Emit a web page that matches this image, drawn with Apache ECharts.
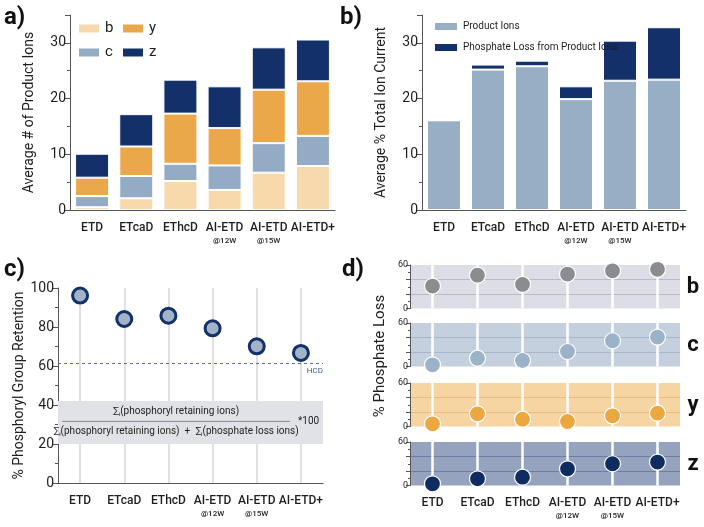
<!DOCTYPE html>
<html><head><meta charset="utf-8">
<script src="https://cdn.jsdelivr.net/npm/echarts@6/dist/echarts.min.js"></script>
<style>html,body{margin:0;padding:0;background:#fff}#c{width:704px;height:527px}</style>
</head><body><div id="c"></div>
<script>
// ---------- data ----------
const categories = ['ETD','ETcaD','EThcD','AI-ETD@12W','AI-ETD@15W','AI-ETD+'];
// a) average # of product ions (stacked)
const ionB = [0.5, 2.1, 5.2, 3.6, 6.7, 7.9];
const ionC = [2.0, 4.0, 3.1, 4.4, 5.3, 5.4];
const ionY = [3.3, 5.3, 9.0, 6.7, 9.6, 9.8];
const ionZ = [4.3, 5.8, 6.1, 7.5, 7.6, 7.5];
// b) average % total ion current
const productIons = [16.1, 25.2, 25.8, 19.9, 23.2, 23.4];
const phosphateLoss = [0, 0.9, 1.0, 2.3, 7.2, 9.4];
// c) % phosphoryl group retention
const retention = [96.1, 84.1, 85.8, 79.3, 70.1, 66.7];
const hcdRetention = 61.5;
const formulaBox = [20, 42];
// d) % phosphate loss by ion type
const lossB = [30.9, 46.0, 33.2, 47.5, 52.0, 54.0];
const lossC = [2.3, 11.5, 8.3, 20.7, 35.5, 40.6];
const lossY = [3.7, 17.5, 10.1, 6.9, 14.7, 18.4];
const lossZ = [2.3, 9.2, 11.5, 23.0, 30.0, 32.3];
const rowNames = ['b', 'c', 'y', 'z'];

// ---------- style ----------
const FONT = "Roboto,'Liberation Sans',sans-serif";
const TXT = '#1e1e1e';
const AX = '#555';
const catFmt = v => v.includes('@') ? v.split('@')[0] + '\n{s|@' + v.split('@')[1] + '}' : v;
const catLabel = {
  interval: 0, fontFamily: FONT, fontSize: 12, fontWeight: 500, color: TXT, lineHeight: 15, margin: 10,
  formatter: catFmt, rich: { s: { fontFamily: FONT, fontSize: 8, lineHeight: 11, color: TXT } }
};
function catAxis(gi, extra) {
  return Object.assign({
    type: 'category', gridIndex: gi, data: categories,
    axisLine: { lineStyle: { color: AX, width: 1 } },
    axisTick: { length: 3, lineStyle: { color: AX } },
    axisLabel: catLabel
  }, extra || {});
}
function valAxis(gi, extra) {
  return Object.assign({
    type: 'value', gridIndex: gi,
    axisLine: { show: true, lineStyle: { color: AX } },
    axisTick: { show: true, length: 5, lineStyle: { color: AX } },
    minorTick: { show: true, splitNumber: 2, length: 3, lineStyle: { color: AX } },
    splitLine: { show: false },
    axisLabel: { fontFamily: FONT, fontSize: 14, color: TXT, margin: 4 },
    nameLocation: 'middle', nameTextStyle: { fontFamily: FONT, fontSize: 14, color: TXT }
  }, extra || {});
}

const dTops = [265, 323, 383, 442];
const dBg = ['#dcdde5', '#c4d0dd', '#f7d5a3', '#95a3bf'];
const dLine = ['#b8bac9', '#a7b6c8', '#e9bd80', '#6c7ea3'];
const dMark = ['#8b8c90', '#9bb2c8', '#eba740', '#0f2c62'];
const dData = [lossB, lossC, lossY, lossZ];

const grids = [
  { left: 70, top: 15, width: 265, height: 195 },
  { left: 422, top: 15, width: 264, height: 195 },
  { left: 58, top: 288, width: 265, height: 195 }
];
dTops.forEach((t, i) => grids.push({ left: 410, top: t, width: 270, height: 43.5, show: true, backgroundColor: dBg[i], borderWidth: 0 }));

const yLab35 = { fontFamily: FONT, fontSize: 14, color: TXT, margin: 4, showMaxLabel: false };
const xAxes = [catAxis(0), catAxis(1), catAxis(2)];
const yAxes = [
  valAxis(0, { min: 0, max: 35, interval: 10, name: 'Average # of Product Ions', nameGap: 34, axisLabel: yLab35 }),
  valAxis(1, { min: 0, max: 35, interval: 10, name: 'Average % Total Ion Current', nameGap: 34, axisLabel: yLab35 }),
  valAxis(2, { min: 0, max: 100, interval: 20, name: '% Phosphoryl Group Retention', nameGap: 32 })
];
for (let i = 0; i < 4; i++) {
  xAxes.push(catAxis(3 + i, i < 3 ? { axisLine: { show: false }, axisTick: { show: false }, axisLabel: { show: false } }
                                 : { axisLine: { show: false }, axisTick: { show: false } }));
  yAxes.push(valAxis(3 + i, {
    min: 0, max: 60, interval: 20,
    axisTick: { show: true, length: 4, lineStyle: { color: AX } },
    minorTick: { show: true, splitNumber: 2, length: 2, lineStyle: { color: AX } },
    axisLabel: { fontFamily: FONT, fontSize: 9, color: TXT, margin: 2, formatter: v => (v === 0 || v === 60) ? String(v) : '' },
    splitLine: { show: true, showMinLine: false, showMaxLine: false, lineStyle: { color: dLine[i], width: 1 } }
  }));
}

const barItem = c => ({ color: c, borderColor: '#fff', borderWidth: 1 });
const series = [
  { name: 'b', type: 'bar', stack: 'a', xAxisIndex: 0, yAxisIndex: 0, barWidth: 34, data: ionB, itemStyle: barItem('#f8d9ab') },
  { name: 'c', type: 'bar', stack: 'a', xAxisIndex: 0, yAxisIndex: 0, barWidth: 34, data: ionC, itemStyle: barItem('#93abc4') },
  { name: 'y', type: 'bar', stack: 'a', xAxisIndex: 0, yAxisIndex: 0, barWidth: 34, data: ionY, itemStyle: barItem('#eba84b') },
  { name: 'z', type: 'bar', stack: 'a', xAxisIndex: 0, yAxisIndex: 0, barWidth: 34, data: ionZ, itemStyle: barItem('#13306a') },
  { name: 'Product Ions', type: 'bar', stack: 'b', xAxisIndex: 1, yAxisIndex: 1, barWidth: 34, data: productIons, itemStyle: barItem('#97aec5') },
  { name: 'Phosphate Loss from Product Ions', type: 'bar', stack: 'b', xAxisIndex: 1, yAxisIndex: 1, barWidth: 34, data: phosphateLoss, itemStyle: barItem('#13306a') },
  // c) vertical guide lines
  { name: 'c-guides', type: 'line', xAxisIndex: 2, yAxisIndex: 2, data: retention, symbol: 'none', lineStyle: { opacity: 0 }, z: 1, silent: true,
    markLine: { z: 1, silent: true, symbol: 'none', label: { show: false }, lineStyle: { color: '#dfe0e6', width: 2, type: 'solid' },
      data: categories.map(c => ({ xAxis: c })) } },
  // c) formula box
  { name: 'c-box', type: 'line', xAxisIndex: 2, yAxisIndex: 2, data: [], z: 2, silent: true,
    markArea: { z: 2, silent: true, itemStyle: { color: '#e1e2e8' }, data: [[{ yAxis: formulaBox[0] }, { yAxis: formulaBox[1] }]] } },
  // c) retention points
  { name: 'retention', type: 'scatter', xAxisIndex: 2, yAxisIndex: 2, data: retention, symbolSize: 15, z: 4,
    itemStyle: { color: '#a0b3c7', borderColor: '#143068', borderWidth: 3, opacity: 1 },
    markLine: { z: 3, silent: true, symbol: 'none', lineStyle: { color: '#56709a', type: [3, 3], width: 1 },
      label: { show: true, position: 'insideEndBottom', formatter: 'HCD', fontFamily: FONT, fontSize: 8, color: '#3e5a86', distance: [0, 4] },
      data: [{ yAxis: hcdRetention }] } }
];
for (let i = 0; i < 4; i++) {
  series.push({ name: 'd-guides-' + rowNames[i], type: 'line', xAxisIndex: 3 + i, yAxisIndex: 3 + i, data: dData[i], symbol: 'none', lineStyle: { opacity: 0 }, z: 1, silent: true,
    markLine: { z: 1, silent: true, symbol: 'none', label: { show: false }, lineStyle: { color: '#ffffff', width: 2.5, type: 'solid' },
      data: categories.map(c => ({ xAxis: c })) } });
  series.push({ name: 'loss-' + rowNames[i], type: 'scatter', xAxisIndex: 3 + i, yAxisIndex: 3 + i, data: dData[i], symbolSize: 16, z: 4,
    itemStyle: { color: dMark[i], borderColor: '#ffffff', borderWidth: 1.2, opacity: 1 } });
}

const chart = echarts.init(document.getElementById('c'), null, { renderer: 'canvas' });
chart.setOption({
  animation: false,
  backgroundColor: '#fff',
  textStyle: { fontFamily: FONT },
  grid: grids, xAxis: xAxes, yAxis: yAxes, series: series,
  legend: [
    { data: ['b', 'c'], left: 72, top: 16, orient: 'vertical', itemWidth: 22, itemHeight: 10, itemGap: 9, icon: 'rect',
      textStyle: { fontFamily: FONT, fontSize: 15, color: TXT }, selectedMode: false },
    { data: ['y', 'z'], left: 116, top: 16, orient: 'vertical', itemWidth: 22, itemHeight: 10, itemGap: 9, icon: 'rect',
      textStyle: { fontFamily: FONT, fontSize: 15, color: TXT }, selectedMode: false },
    { data: ['Product Ions', 'Phosphate Loss from Product Ions'], left: 428, top: 16, orient: 'vertical', itemWidth: 24, itemHeight: 9, itemGap: 10, icon: 'rect',
      textStyle: { fontFamily: FONT, fontSize: 10, color: TXT }, selectedMode: false }
  ]
});

// annotations anchored to axes
const yAt = v => chart.convertToPixel({ yAxisIndex: 2 }, v);
const gC = grids[2];
const lineX0 = gC.left + 4, lineX1 = gC.left + 232;
const midX = (lineX0 + lineX1) / 2;
const fracY = yAt((formulaBox[0] + formulaBox[1]) / 2 + 0.6);
const rich = { s: { fontFamily: FONT, fontSize: 6, verticalAlign: 'bottom', padding: [6, 0, 0, 0], fill: TXT } };
const graphics = [
  { type: 'text', left: 4, top: 6, z: 100, style: { text: 'a)', font: "bold 24px " + FONT, fill: '#111' } },
  { type: 'text', left: 340, top: 6, z: 100, style: { text: 'b)', font: "bold 24px " + FONT, fill: '#111' } },
  { type: 'text', left: 4, top: 258, z: 100, style: { text: 'c)', font: "bold 24px " + FONT, fill: '#111' } },
  { type: 'text', left: 342, top: 258, z: 100, style: { text: 'd)', font: "bold 24px " + FONT, fill: '#111' } },
  { type: 'line', z: 100, shape: { x1: lineX0, y1: fracY, x2: lineX1, y2: fracY }, style: { stroke: '#8a8a8a', lineWidth: 1 } },
  { type: 'text', z: 100, x: midX, y: fracY - 10, style: { text: '∑{s|i}(phosphoryl retaining ions)', rich: rich, font: "10px " + FONT, fill: TXT, align: 'center', verticalAlign: 'middle' } },
  { type: 'text', z: 100, x: midX, y: fracY + 10, style: { text: '∑{s|i}(phosphoryl retaining ions)  +  ∑{s|i}(phosphate loss ions)', rich: rich, font: "10px " + FONT, fill: TXT, align: 'center', verticalAlign: 'middle' } },
  { type: 'text', z: 100, x: lineX1 + 8, y: fracY, style: { text: '*100', font: "10px " + FONT, fill: TXT, align: 'left', verticalAlign: 'middle' } },
  { type: 'text', z: 100, x: 380, y: 356, rotation: Math.PI / 2, style: { text: '% Phosphate Loss', font: "15px " + FONT, fill: TXT, align: 'center', verticalAlign: 'middle' } }
];
dTops.forEach((t, i) => graphics.push({ type: 'text', z: 100, x: 693, y: t + 22, style: { text: rowNames[i], font: "bold 22px " + FONT, fill: '#111', align: 'center', verticalAlign: 'middle' } }));
chart.setOption({ graphic: graphics });
</script>
</body></html>
